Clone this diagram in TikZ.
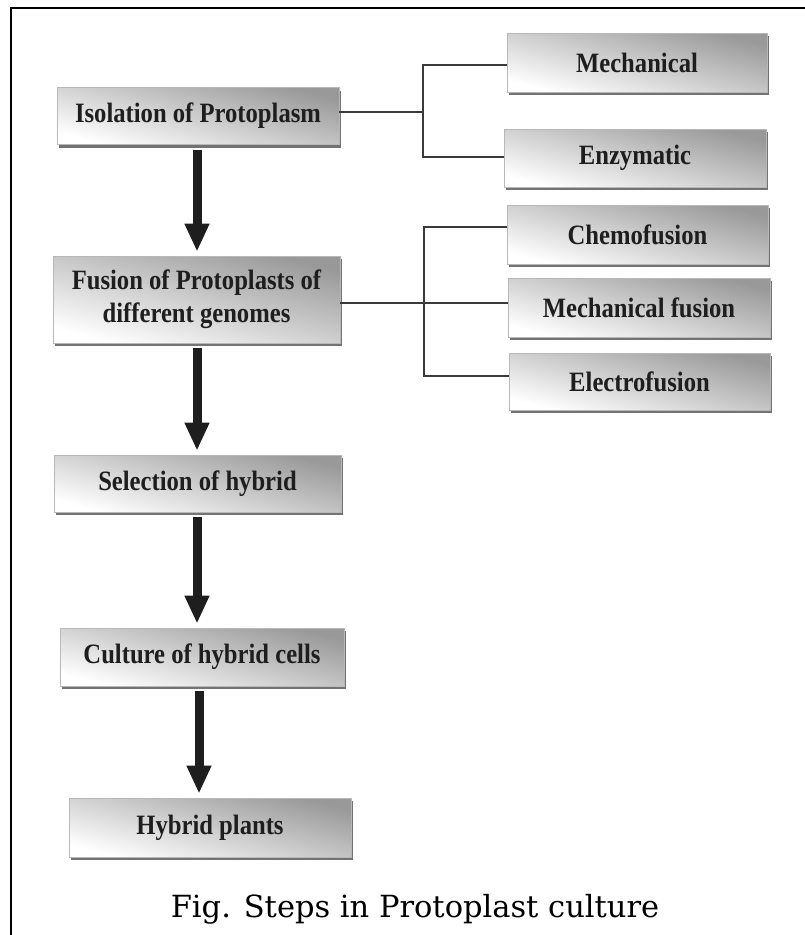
\documentclass[tikz,border=0pt]{standalone}
\usepackage{fontspec}
\setmainfont{Liberation Serif}
\newfontfamily\boxfont[FakeStretch=0.88]{Liberation Serif}
\newfontfamily\capfont{DejaVu Serif}
\usetikzlibrary{arrows.meta,shadows,calc}
\definecolor{inkc}{HTML}{1E1E1E}
\definecolor{linec}{HTML}{3A3A3A}
\tikzset{
  box/.style={draw=black!28, line width=0.6pt,
    top color=black!40, bottom color=white, shading angle=-15,
    drop shadow={shadow xshift=1.5pt, shadow yshift=-3pt, fill=black!55, opacity=1},
    inner sep=0pt, align=center, text=inkc,
    font=\boxfont\bfseries\fontsize{28}{33}\selectfont},
  conn/.style={draw=linec, line width=2.4pt},
  bigarrow/.style={draw=inkc, line width=9pt,
    -{Triangle[width=23pt,length=28pt]}, shorten <=5pt, shorten >=4pt},
  frame/.style={draw=black, line width=2pt}
}
\begin{document}
\begin{tikzpicture}[x=1pt,y=-1pt]
\useasboundingbox (0,0) rectangle (804,935);
\draw[frame] (11,936) -- (11,8) -- (805,8);

% left column
\node[box, minimum width=282pt, minimum height=57pt] (iso) at (198,116) {Isolation of Protoplasm};
\node[box, minimum width=287pt, minimum height=87pt] (fusion) at (196.5,299.5) {Fusion of Protoplasts of\\different genomes};
\node[box, minimum width=287pt, minimum height=57pt] (sel) at (197.5,483.5) {Selection of hybrid};
\node[box, minimum width=284pt, minimum height=58pt] (cult) at (202,657) {Culture of hybrid cells};
\node[box, minimum width=282pt, minimum height=59pt] (hyb) at (210,827.5) {Hybrid plants};

% right column
\node[box, minimum width=260pt, minimum height=59pt] (mech) at (637,62.5) {Mechanical};
\node[box, minimum width=262pt, minimum height=58pt] (enz) at (635,158) {Enzymatic};
\node[box, minimum width=261pt, minimum height=59pt] (chemo) at (637.5,234.5) {Chemofusion};
\node[box, minimum width=262pt, minimum height=59pt] (mfus) at (639,307.5) {Mechanical fusion};
\node[box, minimum width=261pt, minimum height=57pt] (elec) at (639.5,381.5) {Electrofusion};

% bracket connectors
\coordinate (j1) at (423,112);
\coordinate (j2) at (424,303);
\draw[conn] ([yshift=4pt]iso.east) -- (j1);
\draw[conn] (j1) |- ([yshift=-2.5pt]mech.west);
\draw[conn] (j1) |- ([yshift=1pt]enz.west);
\draw[conn] ([yshift=-3.5pt]fusion.east) -- ([yshift=4.5pt]mfus.west);
\draw[conn] (j2) |- ([yshift=7.5pt]chemo.west);
\draw[conn] (j2) |- ([yshift=5.5pt]elec.west);

% flow arrows
\draw[bigarrow] ([xshift=-1pt]iso.south) -- ([xshift=-1pt]iso.south |- fusion.north);
\draw[bigarrow] ([xshift=0.5pt]fusion.south) -- ([xshift=0.5pt]fusion.south |- sel.north);
\draw[bigarrow] ([xshift=-0.5pt]sel.south) -- ([xshift=-0.5pt]sel.south |- cult.north);
\draw[bigarrow] ([xshift=-3pt]cult.south) -- ([xshift=-3pt]cult.south |- hyb.north);

% caption
\node[font=\capfont\fontsize{30.5}{34}\selectfont, text=black, anchor=base] (cap) at (415,917) {Fig. Steps in Protoplast culture};
\end{tikzpicture}
\end{document}
